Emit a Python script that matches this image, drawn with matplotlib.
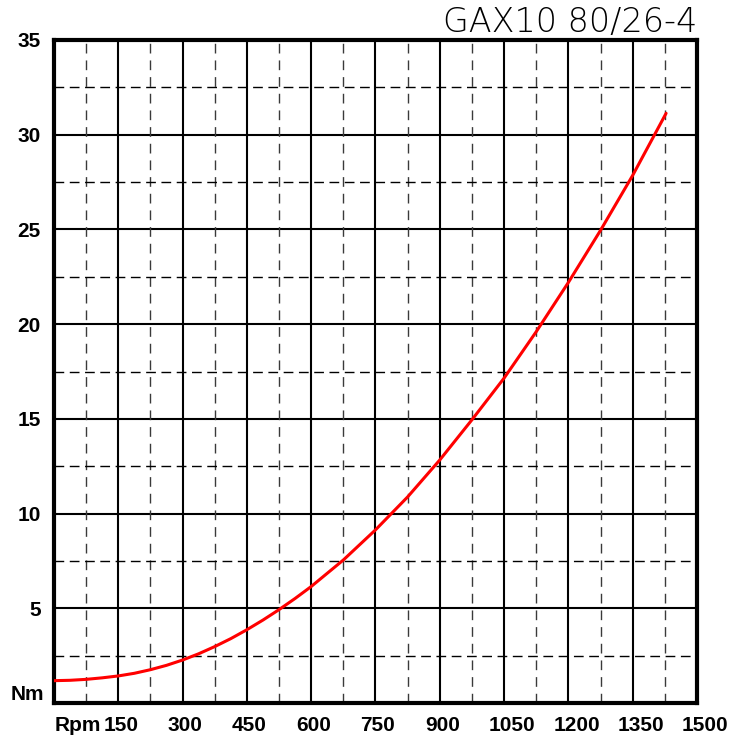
import matplotlib.pyplot as plt
from matplotlib.transforms import ScaledTranslation

# torque curve (Nm) against speed (rpm)
rpm = [0, 37.5, 75, 112.5, 150, 187.5, 225, 262.5, 300, 337.5, 375, 412.5,
       450, 487.5, 525, 562.5, 600, 675, 750, 825, 900, 975, 1050, 1125,
       1200, 1275, 1350, 1428]
torque = [1.18, 1.20, 1.25, 1.33, 1.43, 1.57, 1.76, 1.99, 2.27, 2.60, 2.98,
          3.40, 3.87, 4.38, 4.93, 5.52, 6.15, 7.55, 9.14, 10.88, 12.83, 14.95,
          17.15, 19.6, 22.2, 24.95, 27.85, 31.13]

x_ticks = [0, 150, 300, 450, 600, 750, 900, 1050, 1200, 1350, 1500]
x_labels = ['Rpm', '150', '300', '450', '600', '750', '900', '1050', '1200', '1350', '1500']
y_ticks = [0, 5, 10, 15, 20, 25, 30, 35]
y_labels = ['Nm', '5', '10', '15', '20', '25', '30', '35']
title = 'GAX10 80/26-4'

fig = plt.figure(figsize=(7.39, 7.43), dpi=100)
ax = fig.add_axes([0.0731, 0.0538, 0.8700, 0.8924])
ax.set_xlim(0, 1500)
ax.set_ylim(0, 35)

# major solid grid, minor dashed grid
for v in x_ticks[1:-1]:
    ax.axvline(v, color='black', lw=1.5, zorder=1)
for v in y_ticks[1:-1]:
    ax.axhline(v, color='black', lw=1.5, zorder=1)
for v in range(75, 1500, 150):
    ax.axvline(v, color='#3a3a3a', lw=1.0, ls=(0, (7, 5)), zorder=1)
for v in [2.5 + 5 * i for i in range(7)]:
    ax.axhline(v, color='black', lw=1.0, ls=(0, (7, 4)), zorder=1)

ax.plot(rpm, torque, color='#ff0000', lw=2.2, zorder=3,
        solid_capstyle='round', solid_joinstyle='round')

for s in ax.spines.values():
    s.set_linewidth(3.0)
    s.set_color('black')

ax.set_xticks(x_ticks)
ax.set_xticklabels(x_labels, fontfamily='Liberation Sans', fontweight='bold', fontsize=15)
ax.set_yticks(y_ticks)
ax.set_yticklabels(y_labels, fontfamily='Liberation Sans', fontweight='bold', fontsize=15)
ax.tick_params(axis='y', length=0, pad=9.5)
ax.tick_params(axis='x', length=0, pad=9)

# x labels start a little left of their tick, "Rpm" starts at the frame
shift = ScaledTranslation(-0.15, 0, fig.dpi_scale_trans)
for i, lab in enumerate(ax.get_xticklabels()):
    lab.set_horizontalalignment('left')
    if i > 0:
        lab.set_transform(lab.get_transform() + shift)
    else:
        lab.set_transform(lab.get_transform() + ScaledTranslation(0.01, 0, fig.dpi_scale_trans))
ylabs = ax.get_yticklabels()
ylabs[0].set_transform(ylabs[0].get_transform() + ScaledTranslation(0.03, 0.11, fig.dpi_scale_trans))

fig.text(0.943, 0.970, title, ha='right', va='center', fontsize=24,
         fontfamily='DejaVu Sans', fontweight='light', color='black')

fig.savefig('out.png', dpi=100)
